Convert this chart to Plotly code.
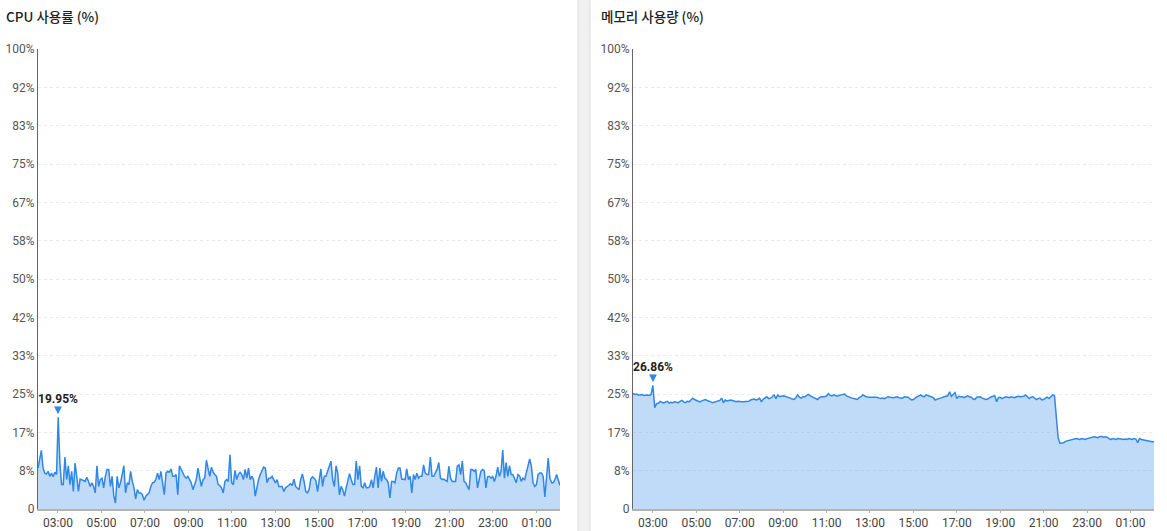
import numpy as np
import pandas as pd
import plotly.graph_objects as go

W, H = 1167, 531

cpu_title = "CPU 사용률 (%)"
mem_title = "메모리 사용량 (%)"

cpu = [
    8.9, 10.7, 12.75, 8.9, 7.8, 7.6, 8.2, 7.1, 7.8, 7.0, 8.0, 7.5, 19.95,
    10.0, 5.3, 5.3, 11.3, 6.4, 9.4, 5.3, 8.2, 3.8, 10.0, 7.1, 3.8, 6.5, 6.4, 6.2, 6.0, 6.9, 6.0, 4.9, 5.7, 4.9, 3.5,
    9.4, 4.9, 6.4, 6.7, 4.6, 7.1, 8.6, 8.6, 4.9, 7.1, 2.9, 1.3, 7.1, 4.6, 5.7,
    7.5, 9.4, 3.5, 5.7, 5.3, 8.2, 6.0, 4.6, 2.2, 4.2, 3.5, 3.5, 3.1, 1.9, 2.8, 3.1, 3.5, 4.9, 5.7, 5.8, 6.4, 7.8,
    6.4, 8.2, 5.7, 3.1, 7.8, 8.2, 8.0, 8.7, 7.1, 7.1, 7.5, 3.1, 9.4, 8.6, 7.8, 7.1, 6.7, 7.1, 6.4, 5.7, 4.2, 5.3,
    6.4, 8.9, 7.1, 4.9, 6.4, 6.7,
    10.6, 8.6, 7.1, 9.1, 8.0, 7.5, 7.1, 5.3, 5.1, 4.6, 3.5, 6.0, 6.4, 6.0, 11.8, 5.7, 5.3, 8.4, 6.4, 7.5, 8.0, 7.5,
    6.4, 8.6, 6.7, 8.9, 6.4, 7.1, 6.4, 2.8, 4.9, 6.4, 7.5, 8.2, 9.1, 8.9, 5.7, 6.7, 6.7, 7.1, 6.4, 5.7,
    6.4, 4.9, 4.9, 4.9, 3.8, 4.6, 4.9, 5.3, 5.5, 5.1, 6.5, 4.9, 4.6, 4.2, 6.4, 7.6, 6.0, 3.8, 3.5, 4.2, 6.5, 7.0,
    6.7, 6.2, 3.8, 6.4, 8.7, 4.9, 7.1, 7.1, 8.2, 9.1, 10.4, 6.4, 4.9, 9.4, 7.8, 3.1, 4.9, 4.2, 2.8, 4.6, 6.0, 7.7,
    6.4, 5.3, 5.3, 10.4, 6.4, 9.4, 4.9, 4.6, 5.7, 4.6, 4.6, 4.9, 6.4, 4.6, 7.1, 9.1, 4.6, 8.9, 6.0, 8.2, 6.7, 6.4,
    5.7, 2.4, 6.0, 6.0, 5.7, 7.8, 8.9, 8.9, 6.5, 6.4, 6.4, 8.7, 6.4, 7.1, 3.5, 7.5, 6.4, 7.8, 6.7, 7.1, 7.1, 9.6,
    7.8, 7.5, 7.5, 11.3, 7.1, 7.1, 7.8, 8.6, 10.1, 6.7, 6.4, 6.5, 6.2, 6.0, 9.3, 6.7, 6.0, 6.0, 6.0, 9.3, 9.6, 7.5,
    10.4, 6.0, 5.7, 4.9, 4.2, 8.6, 8.6, 8.2, 8.6, 4.6, 6.4, 8.2, 8.6, 8.4, 4.6, 7.0, 7.1, 6.7, 7.1, 6.0, 7.1, 9.1,
    7.1, 8.2, 12.8, 6.7, 10.1, 7.1, 9.4, 7.5, 7.5, 6.4, 5.7, 7.5, 7.2, 6.0, 6.7, 6.4, 7.8, 9.3, 10.9, 9.3, 5.7, 4.9,
    5.3, 7.5, 7.8, 7.8, 7.1, 2.6, 6.4, 11.1, 6.7, 5.7, 5.7, 6.4, 7.5, 6.0, 5.1,
]

mem = [
    25.1, 24.9, 25.0, 24.8, 24.8, 24.9, 24.7, 24.8, 24.8, 24.7, 24.9,
    26.86, 22.0, 22.9, 23.0, 23.4, 23.2, 23.0, 23.3, 23.4, 23.0, 23.2, 23.1,
    23.3, 23.2, 23.1, 23.4, 23.6, 23.3, 23.1, 23.4, 23.3, 23.7, 24.1, 23.8,
    23.6, 23.5, 23.3, 23.5, 23.7, 23.8, 23.6, 23.5, 23.3, 23.1, 23.2, 23.3,
    23.4, 23.6, 24.1, 23.1, 23.7, 23.5, 23.6, 23.7, 23.6, 23.4, 23.3, 23.4,
    23.3, 23.3, 23.3, 23.3, 23.3, 23.4, 23.7, 23.8, 23.9, 23.7, 23.8, 24.1,
    23.3, 23.9, 24.2, 24.4, 24.0, 24.1, 24.4, 24.8, 24.0, 24.8, 24.4, 24.5,
    24.6, 24.5, 24.4, 24.3, 24.1, 23.9, 23.8, 24.2, 24.8, 24.3, 24.1, 24.4,
    24.4, 24.7, 24.9, 24.6, 24.4, 24.1, 23.9, 23.8, 24.2, 24.4, 24.4, 24.4,
    24.6, 25.1, 24.7, 24.6, 24.8, 24.6, 24.5, 24.7, 24.8, 24.9, 25.0, 24.6,
    24.4, 24.3, 24.1, 24.0, 23.9, 23.8, 24.2, 24.4, 24.8, 24.5, 24.4, 24.3,
    24.3, 24.4, 24.3, 24.4, 24.3, 24.1, 24.0, 24.1, 24.0, 24.2, 24.4, 24.3,
    24.2, 24.2, 24.3, 24.4, 24.2, 24.1, 24.1, 24.4, 24.3, 24.3, 24.0, 23.7,
    23.8, 24.2, 24.4, 24.6, 24.8, 24.5, 24.4, 24.8, 24.6, 24.5, 24.4, 24.2,
    23.7, 23.9, 24.0, 24.1, 24.3, 24.4, 24.5, 24.6, 25.5, 24.5, 24.9, 25.3,
    24.0, 24.5, 24.4, 24.4, 24.2, 24.5, 24.6, 24.4, 24.3, 23.9, 23.8, 24.3,
    24.3, 24.4, 24.1, 24.0, 23.8, 23.9, 24.2, 24.4, 24.5, 24.6, 23.3, 24.2,
    24.3, 24.0, 24.2, 24.4, 24.3, 24.2, 24.4, 24.3, 24.2, 24.4, 24.5, 24.4,
    24.4, 24.5, 24.8, 24.3, 24.0, 24.3, 24.4, 24.1, 23.8, 24.0, 24.1, 23.7,
    23.8, 24.1, 24.3, 24.0, 24.3, 24.8, 24.6, 20.6, 15.5, 14.3, 14.4, 14.4,
    14.7, 14.8, 14.9, 15.0, 15.1, 15.1, 15.3, 15.2, 15.1, 15.3, 15.2, 15.1,
    15.3, 15.4, 15.5, 15.5, 15.7, 15.6, 15.5, 15.7, 15.8, 15.6, 15.7, 15.6,
    15.3, 15.1, 15.3, 15.2, 15.1, 15.3, 15.3, 15.2, 15.1, 15.2, 15.1, 15.3,
    15.2, 15.1, 15.3, 15.2, 14.4, 15.3, 15.1, 15.0, 14.9, 14.8, 14.8, 14.7,
    14.6, 14.6,
]

ytick_vals = [0, 100/12, 200/12, 25, 400/12, 500/12, 50, 700/12, 800/12, 75, 1000/12, 1100/12, 100]
ytick_text = ["0", "8%", "17%", "25%", "33%", "42%", "50%", "58%", "67%", "75%", "83%", "92%", "100%"]

start = pd.Timestamp("2024-05-01 02:05")
end = start + pd.Timedelta(days=1)
cpu_t = pd.date_range(start, end, periods=len(cpu))
mem_t = pd.date_range(start, periods=len(mem), freq="5min")

LINE = "#2f87e6"
FILL = "rgba(47,135,230,0.30)"
FONT = "Roboto, 'Noto Sans CJK KR', sans-serif"
TFONT = "'Noto Sans CJK KR', Roboto, sans-serif"

fig = go.Figure()
fig.add_trace(go.Scatter(x=cpu_t, y=cpu, mode="lines", fill="tozeroy",
                         line=dict(color=LINE, width=1.5), fillcolor=FILL,
                         xaxis="x", yaxis="y", hoverinfo="skip", showlegend=False))
fig.add_trace(go.Scatter(x=mem_t, y=mem, mode="lines", fill="tozeroy",
                         line=dict(color=LINE, width=1.5), fillcolor=FILL,
                         xaxis="x2", yaxis="y2", hoverinfo="skip", showlegend=False))

ydom = [(H - 509) / H, (H - 49) / H]
xcommon = dict(type="date", tickformat="%H:%M", dtick=7200000,
               tick0="2024-05-01 03:00", showgrid=False, zeroline=False,
               showline=True, linecolor="#b3b3b3", linewidth=2,
               ticks="outside", ticklen=2, tickcolor="#b3b3b3", tickwidth=1,
               tickfont=dict(family=FONT, size=12, color="#444"),
               range=[start, end], fixedrange=True, automargin=False)
ycommon = dict(range=[0, 100], tickmode="array", tickvals=ytick_vals, ticktext=ytick_text,
               showgrid=True, gridcolor="#ebebeb", griddash="dot", gridwidth=1,
               zeroline=False, showline=True, linecolor="#666", linewidth=1,
               ticks="", tickfont=dict(family=FONT, size=12, color="#555"),
               domain=ydom, fixedrange=True, automargin=False)

fig.update_layout(
    width=W, height=H,
    margin=dict(l=0, r=0, t=0, b=0, autoexpand=False),
    paper_bgcolor="white", plot_bgcolor="white",
    xaxis=dict(domain=[38 / W, 560 / W], anchor="y", **xcommon),
    yaxis=dict(anchor="x", **ycommon),
    xaxis2=dict(domain=[633 / W, 1154 / W], anchor="y2", **xcommon),
    yaxis2=dict(anchor="x2", **ycommon),
    showlegend=False,
)

# panel separator
fig.add_shape(type="rect", xref="paper", yref="paper",
              x0=578 / W, x1=590 / W, y0=-0.01, y1=1.01,
              fillcolor="#f0f0f0", line=dict(color="#dcdcdc", width=1), layer="below")

# titles
fig.add_annotation(text=cpu_title, xref="paper", yref="paper", x=4 / W, y=(H - 16) / H,
                   xanchor="left", yanchor="middle", showarrow=False,
                   font=dict(family=TFONT, size=13.5, color="#222", weight=500))
fig.add_annotation(text=mem_title, xref="paper", yref="paper", x=599 / W, y=(H - 16) / H,
                   xanchor="left", yanchor="middle", showarrow=False,
                   font=dict(family=TFONT, size=13.5, color="#222", weight=500))

# peak markers
for t, vals, xr, yr in [(cpu_t, cpu, "x", "y"), (mem_t, mem, "x2", "y2")]:
    i = int(np.argmax(vals))
    fig.add_annotation(text="▼", x=t[i], y=vals[i], xref=xr, yref=yr,
                       xanchor="center", yanchor="bottom", yshift=0, showarrow=False,
                       font=dict(family="DejaVu Sans", size=10, color=LINE))
    fig.add_annotation(text="<b>%.2f%%</b>" % vals[i], x=t[i], y=vals[i], xref=xr, yref=yr,
                       xanchor="center", yanchor="bottom", yshift=9, showarrow=False,
                       font=dict(family=FONT, size=12, color="#222"))

fig.write_html("out.html", config={"displayModeBar": False})
with open("out.html", encoding="utf-8") as f:
    html = f.read()
html = html.replace("<head>", "<head><style>html,body{margin:0;padding:0;overflow:hidden;}</style>", 1)
with open("out.html", "w", encoding="utf-8") as f:
    f.write(html)
